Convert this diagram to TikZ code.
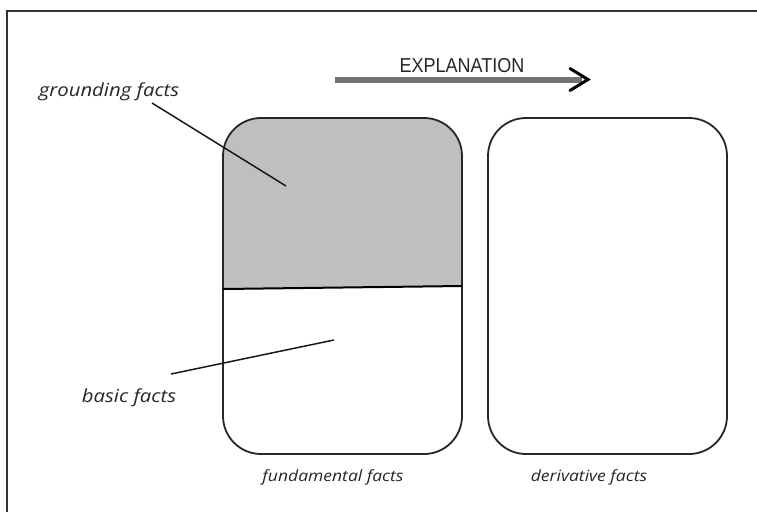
\documentclass[tikz,border=0pt]{standalone}
\usepackage{fontspec}
\usetikzlibrary{calc}
\setmainfont{Open Sans}
\newfontfamily\capfont{Liberation Sans}
\begin{document}
\begin{tikzpicture}[x=1pt,y=-1pt,
  boxline/.style={line width=1.8pt, black!85},
  leader/.style={line width=1.5pt, black!90},
  lab/.style={font=\itshape\fontsize{18}{20}\selectfont, text=black!85, inner sep=0pt, xscale=1.13},
  caption/.style={font=\itshape\fontsize{15.5}{17}\selectfont, text=black!85, inner sep=0pt, xscale=1.13}]
\useasboundingbox (0,0) rectangle (757,512);
% frame
\draw[line width=1.3pt, black!80] (7,512) -- (7,11) -- (757,11);
% left box (fundamental facts)
\begin{scope}
  \clip[rounded corners=38pt] (223,118) rectangle (462,454);
  \fill[gray!50] (220,115) -- (465,115) -- (465,286) -- (220,289) -- cycle;
\end{scope}
\draw[boxline, rounded corners=38pt] (223,118) rectangle (462,454);
\node[coordinate] (dl) at (223,289) {};
\node[coordinate] (dr) at (462,286) {};
\draw[line width=2pt, black] (dl) -- (dr);
% right box (derivative facts)
\draw[boxline, rounded corners=38pt] (488,118) rectangle (727,454);
% explanation arrow
\node[font=\capfont\fontsize{18}{20}\selectfont, text=black!85, inner sep=0pt, yscale=1.12] (expl) at (462,66) {EXPLANATION};
\coordinate (as) at (335,79.5);
\coordinate (ae) at (582,79.5);
\coordinate (tip) at (588,79.5);
\draw[line width=6pt, black!55] (as) -- (ae);
\draw[line width=3pt, black, line cap=round, line join=miter] ($(tip)+(-18,-11)$) -- (tip) -- ($(tip)+(-18,11)$);
% labels
\node[lab] (g) at (109,92) {grounding facts};
\coordinate (gs) at (152,103);
\coordinate (ge) at (286,186);
\draw[leader] (gs) -- (ge);
\node[lab] (b) at (129,398) {basic facts};
\coordinate (bs) at (171,374);
\coordinate (be) at (334,340);
\draw[leader] (bs) -- (be);
\node[caption] (ff) at (333,477) {fundamental facts};
\node[caption] (df) at (589,477) {derivative facts};
\end{tikzpicture}
\end{document}
